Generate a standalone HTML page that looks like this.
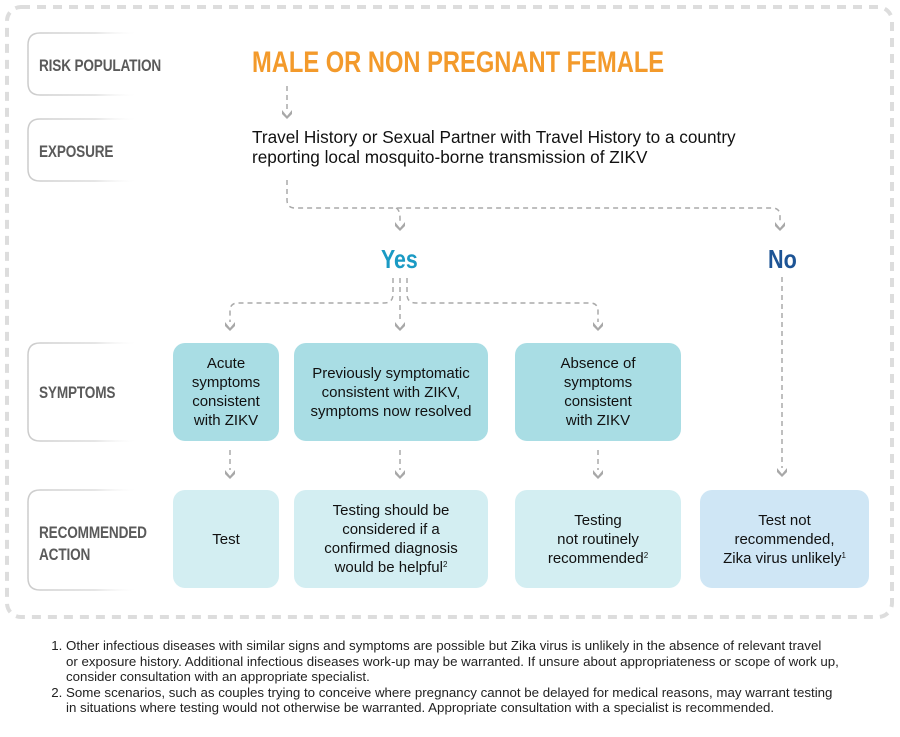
<!DOCTYPE html>
<html><head><meta charset="utf-8"><style>
body{margin:0;width:900px;height:737px;background:#fff;font-family:"Liberation Sans",sans-serif;position:relative;overflow:hidden}
.a{position:absolute}
.c{transform-origin:0 0;transform:scaleX(0.8);white-space:nowrap;font-weight:bold}
.lab{position:absolute;color:#5a5a5a;font-size:17px;letter-spacing:-0.2px}
.box{position:absolute;border-radius:12px;display:flex;align-items:center;justify-content:center;text-align:center;font-size:15px;line-height:19px;color:#111}
.s{background:#a9dde4}.r{background:#d3eef2}
sup{font-size:8px;vertical-align:5px;line-height:0}
.ft{position:absolute;left:50px;font-size:13.3px;line-height:15.5px;color:#222;width:840px;white-space:nowrap}
</style></head><body>
<svg class="a" style="left:0;top:0" width="900" height="737">
<defs><linearGradient id="g" x1="0" x2="1"><stop offset="0" stop-color="#ccc"/><stop offset="0.6" stop-color="#ddd"/><stop offset="1" stop-color="#fff" stop-opacity="0"/></linearGradient></defs>
<rect x="7" y="7" width="885" height="610" rx="14" fill="none" stroke="#ddd" stroke-width="4" stroke-dasharray="9 7"/>
<g fill="none" stroke="url(#g)" stroke-width="1.5">
<path d="M140 33 H40 Q28 33 28 45 V83 Q28 95 40 95 H140"/>
<path d="M140 119 H40 Q28 119 28 131 V169 Q28 181 40 181 H140"/>
<path d="M140 343 H40 Q28 343 28 355 V429 Q28 441 40 441 H140"/>
<path d="M140 490 H40 Q28 490 28 502 V578 Q28 590 40 590 H140"/>
</g>
<g fill="none" stroke="#aaa" stroke-width="1.5" stroke-dasharray="5 4">
<path d="M287 86 V110"/>
<path d="M287 180 V200 Q287 208 295 208 H772 Q780 208 780 216 V222"/>
<path d="M396 208 Q400 210 400 218 V222"/>
<path d="M782 277 V468"/>
<path d="M393 278 V294 Q393 303 384 303 H238 Q230 303 230 311 V322"/>
<path d="M400 278 V322"/>
<path d="M407 278 V294 Q407 303 416 303 H590 Q598 303 598 311 V322"/>
<path d="M230 450 V470"/><path d="M400 450 V470"/><path d="M598 450 V470"/>
</g>
<g fill="#a8a8a8">
<path d="M282 110 L287 116 L292 110 L292 114 L287 119 L282 114Z"/>
<path d="M395 222 L400 228 L405 222 L405 226 L400 231 L395 226Z"/>
<path d="M775 222 L780 228 L785 222 L785 226 L780 231 L775 226Z"/>
<path d="M225 322 L230 328 L235 322 L235 326 L230 331 L225 326Z"/>
<path d="M395 322 L400 328 L405 322 L405 326 L400 331 L395 326Z"/>
<path d="M593 322 L598 328 L603 322 L603 326 L598 331 L593 326Z"/>
<path d="M225 470 L230 476 L235 470 L235 474 L230 479 L225 474Z"/>
<path d="M395 470 L400 476 L405 470 L405 474 L400 479 L395 474Z"/>
<path d="M593 470 L598 476 L603 470 L603 474 L598 479 L593 474Z"/>
<path d="M777 468 L782 474 L787 468 L787 472 L782 477 L777 472Z"/>
</g>
</svg>
<div class="lab c" style="left:39px;top:56px">RISK POPULATION</div>
<div class="lab c" style="left:39px;top:142px">EXPOSURE</div>
<div class="lab c" style="left:39px;top:383px">SYMPTOMS</div>
<div class="lab c" style="left:39px;top:522px;line-height:22px">RECOMMENDED<br>ACTION</div>
<div class="a c" style="left:252px;top:46px;font-size:30px;color:#f39a2b;transform:scaleX(0.79)">MALE OR NON PREGNANT FEMALE</div>
<div class="a" style="left:252px;top:127px;font-size:17.2px;line-height:20px;color:#111;white-space:nowrap">Travel History or Sexual Partner with Travel History to a country<br>reporting local mosquito-borne transmission of ZIKV</div>
<div class="a c" style="left:381px;top:244px;font-size:26px;color:#1a9ac4;transform:scaleX(0.82)">Yes</div>
<div class="a c" style="left:768px;top:244px;font-size:26px;color:#1d5495;transform:scaleX(0.83)">No</div>
<div class="box s" style="left:173px;top:343px;width:106px;height:98px"><div>Acute<br>symptoms<br>consistent<br>with ZIKV</div></div>
<div class="box s" style="left:294px;top:343px;width:194px;height:98px"><div>Previously symptomatic<br>consistent with ZIKV,<br>symptoms now resolved</div></div>
<div class="box s" style="left:515px;top:343px;width:166px;height:98px"><div>Absence of<br>symptoms<br>consistent<br>with ZIKV</div></div>
<div class="box r" style="left:173px;top:490px;width:106px;height:98px"><div>Test</div></div>
<div class="box r" style="left:294px;top:490px;width:194px;height:98px"><div>Testing should be<br>considered if a<br>confirmed diagnosis<br>would be helpful<sup>2</sup></div></div>
<div class="box r" style="left:515px;top:490px;width:166px;height:98px"><div>Testing<br>not routinely<br>recommended<sup>2</sup></div></div>
<div class="box" style="left:700px;top:490px;width:169px;height:98px;background:#cfe6f5"><div>Test not<br>recommended,<br>Zika virus unlikely<sup>1</sup></div></div>
<div class="ft" style="top:638px"><ol style="margin:0;padding-left:16px">
<li>Other infectious diseases with similar signs and symptoms are possible but Zika virus is unlikely in the absence of relevant travel<br>or exposure history. Additional infectious diseases work-up may be warranted. If unsure about appropriateness or scope of work up,<br>consider consultation with an appropriate specialist.</li>
<li>Some scenarios, such as couples trying to conceive where pregnancy cannot be delayed for medical reasons, may warrant testing<br>in situations where testing would not otherwise be warranted. Appropriate consultation with a specialist is recommended.</li></ol></div>
</body></html>
